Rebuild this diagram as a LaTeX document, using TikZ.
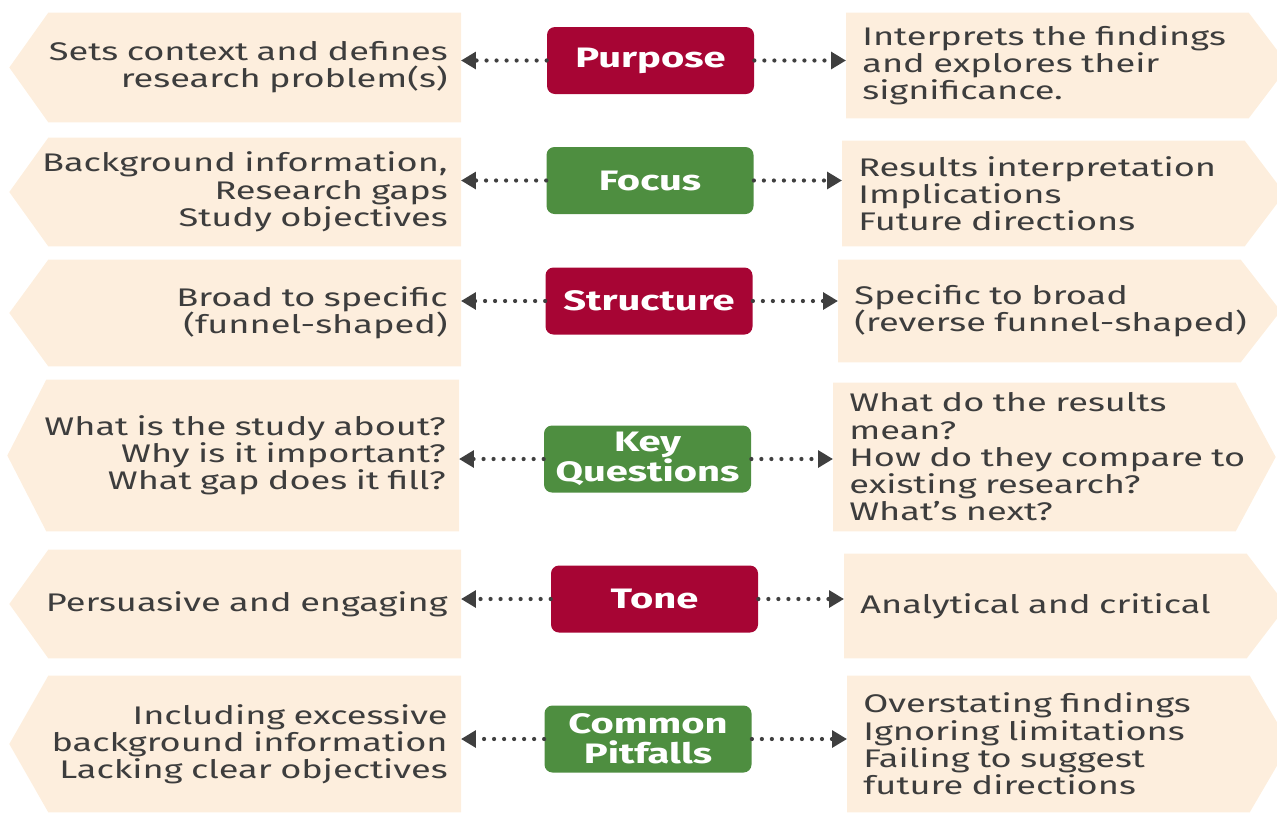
\documentclass[tikz,border=0pt]{standalone}
\usepackage{fontspec}
\setmainfont{Fira Sans}[FakeStretch=1.42]
\usetikzlibrary{arrows.meta,backgrounds}
\newlength{\px}\setlength{\px}{0.02cm}
\definecolor{txtgray}{HTML}{3D3D3D}
\definecolor{cream}{HTML}{FDEEDD}
\definecolor{crimson}{HTML}{A70534}
\definecolor{leaf}{HTML}{4E8E40}
\definecolor{dotgray}{HTML}{3F3F3F}
\begin{document}
\begin{tikzpicture}[x=0.02cm, y=-0.02cm,
	txt/.style={font=\fontsize{14.5}{15.5}\selectfont, text=txtgray},
	lbox/.style={txt, minimum width=451\px, text width=425\px, align=right, inner xsep=13\px, inner ysep=0pt, anchor=east},
	rbox/.style={txt, minimum width=442\px, text width=410\px, align=left, inner xsep=16\px, inner ysep=0pt, anchor=west},
	cbox/.style={font=\fontsize{16}{17}\selectfont\bfseries, text=white, rounded corners=8\px, minimum width=207\px, minimum height=67\px, align=center, inner sep=0pt},
	link/.style={draw=dotgray, line width=2.4pt, line cap=round, dash pattern=on 0pt off 5.7pt, -{Triangle[length=8.5pt, width=9.5pt]}}]
\useasboundingbox (0,0) rectangle (1277,812);
\clip (0,0) rectangle (1277,812);

% Mitte: Begriffe
\node[cbox, fill=crimson] (purpose) at (650.5,60.5) {Purpose};
\node[cbox, fill=leaf] (focus) at (650,180.5) {Focus};
\node[cbox, fill=crimson] (structure) at (649,301) {Structure};
\node[cbox, fill=leaf] (questions) at (647.5,459) {Key\\Questions};
\node[cbox, fill=crimson] (tone) at (654.5,599) {Tone};
\node[cbox, fill=leaf] (pitfalls) at (648,739) {Common\\Pitfalls};

% links: Einleitung
\node[lbox, minimum height=109\px] (purposeL) at (461,67.5) {Sets context and defines\\research problem(s)};
\node[lbox, minimum height=108\px] (focusL) at (461,192) {Background information,\\Research gaps\\Study objectives};
\node[lbox, minimum height=106\px] (structureL) at (461,313) {Broad to specific\\(funnel-shaped)};
\node[lbox, minimum height=151\px] (questionsL) at (459,455.5) {What is the study about?\\Why is it important?\\What gap does it fill?};
\node[lbox, minimum height=108\px] (toneL) at (461,604) {Persuasive and engaging};
\node[lbox, minimum height=136\px] (pitfallsL) at (461,744) {Including excessive\\background information\\Lacking clear objectives};

% rechts: Diskussion
\node[rbox, minimum height=105\px] (purposeR) at (846,65.5) {Interprets the findings\\and explores their\\significance.};
\node[rbox, minimum height=105\px] (focusR) at (842,193.5) {Results interpretation\\Implications\\Future directions};
\node[rbox, minimum height=102\px] (structureR) at (838,311) {Specific to broad\\(reverse funnel-shaped)};
\node[rbox, minimum height=148\px] (questionsR) at (833,457) {What do the results\\mean?\\How do they compare to\\existing research?\\What’s next?};
\node[rbox, minimum height=104\px] (toneR) at (844,606) {Analytical and critical};
\node[rbox, minimum height=136\px] (pitfallsR) at (847,744) {Overstating findings\\Ignoring limitations\\Failing to suggest\\future directions};

% Pfeilformen hinterlegen
\begin{scope}[on background layer]
\foreach \n in {purposeL,focusL,structureL,questionsL,toneL,pitfallsL}
	\fill[cream] (\n.west) -- ([xshift=39\px]\n.north west) -- (\n.north east) -- (\n.south east) -- ([xshift=39\px]\n.south west) -- cycle;
\foreach \n in {purposeR,focusR,structureR,questionsR,toneR,pitfallsR}
	\fill[cream] (\n.south west) -- (\n.north west) -- ([xshift=-40\px]\n.north east) -- (\n.east) -- ([xshift=-40\px]\n.south east) -- cycle;
\end{scope}

% Verbindungspfeile
\draw[link] (purpose.west) -- (purpose.west -| purposeL.east);
\draw[link] (purpose.east) -- (purpose.east -| purposeR.west);
\draw[link] (focus.west) -- (focus.west -| focusL.east);
\draw[link] (focus.east) -- (focus.east -| focusR.west);
\draw[link] (structure.west) -- (structure.west -| structureL.east);
\draw[link] (structure.east) -- (structure.east -| structureR.west);
\draw[link] (questions.west) -- (questions.west -| questionsL.east);
\draw[link] (questions.east) -- (questions.east -| questionsR.west);
\draw[link] (tone.west) -- (tone.west -| toneL.east);
\draw[link] (tone.east) -- (tone.east -| toneR.west);
\draw[link] (pitfalls.west) -- (pitfalls.west -| pitfallsL.east);
\draw[link] (pitfalls.east) -- (pitfalls.east -| pitfallsR.west);
\end{tikzpicture}
\end{document}
